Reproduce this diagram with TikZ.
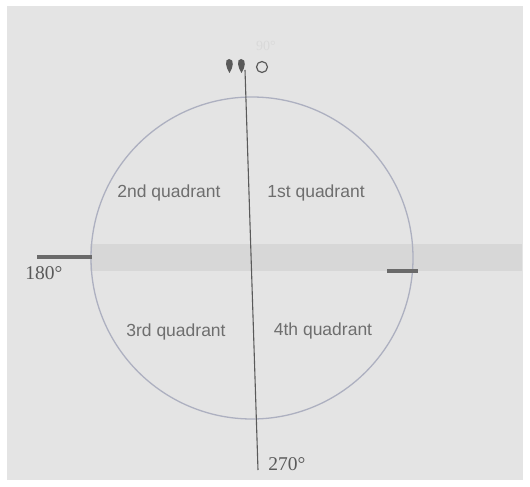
\documentclass[tikz,border=0pt]{standalone}
\usepackage{fontspec}
\setmainfont{Liberation Serif}
\setsansfont{Liberation Sans}
\usetikzlibrary{positioning, calc}

\definecolor{photobg}{HTML}{E4E4E4}
\definecolor{bandgray}{HTML}{D7D7D7}
\definecolor{ringcol}{HTML}{ADB0C0}
\definecolor{axiscol}{HTML}{5A5A5A}
\definecolor{barcol}{HTML}{6A6A6A}
\definecolor{txtcol}{HTML}{6E6E6E}

\begin{document}
\begin{tikzpicture}[
    x=1pt, y=-1pt,
    qlabel/.style={font=\sffamily\fontsize{17.5}{17.5}\selectfont, text=txtcol, inner sep=1pt},
    deglabel/.style={font=\rmfamily\fontsize{19.5}{19.5}\selectfont, text=axiscol, inner sep=1pt},
    axis/.style={draw=axiscol, line width=1.1pt},
    bar/.style={draw=barcol, line width=4pt},
    ring/.style={circle, draw=ringcol, line width=1.3pt, minimum size=322pt, inner sep=0pt}
]
\useasboundingbox (0,0) rectangle (530,487);
\fill[white] (0,0) rectangle (530,487);

% ================= BACKGROUND =================
\fill[photobg] (7,6) rectangle (523,480);
\fill[bandgray] (90,244) rectangle (522,271);

% ================= CIRCLE AND AXIS =================
\node[ring] (circ) at (252,258) {};

\coordinate (top) at (245,70);
\coordinate (bot) at (258,470);
\draw[axis] (top) -- (bot);

\coordinate (lbarA) at (37,257);
\coordinate (lbarB) at (92,257);
\coordinate (rbarA) at (387,271);
\coordinate (rbarB) at (418,271);
\draw[bar] (lbarA) -- (lbarB);
\draw[bar] (rbarA) -- (rbarB);

% ================= TOP MARKS =================
\fill[axiscol] (229,59) .. controls (224,59) and (226,68) .. (229.5,73)
    .. controls (233,68) and (235,59) .. (229,59);
\fill[axiscol] (241,59) .. controls (236,59) and (238,68) .. (241.5,73)
    .. controls (245,68) and (247,59) .. (241,59);
\node[circle, draw=axiscol, line width=1.2pt, minimum size=11pt, inner sep=0pt] (ring0) at (262,67) {};
\node[deglabel, text=black!15, font=\rmfamily\fontsize{14}{14}\selectfont] (d90) at (266,46) {90°};

% ================= LABELS =================
\node[qlabel] (q2) at (169,193) {2nd quadrant};
\node[qlabel] (q1) at (316,193) {1st quadrant};
\node[qlabel] (q3) at (176,332) {3rd quadrant};
\node[qlabel] (q4) at (323,331) {4th quadrant};

\node[deglabel] (d180) at (44,273) {180°};
\node[deglabel] (d270) at (287,464) {270°};

\end{tikzpicture}
\end{document}
